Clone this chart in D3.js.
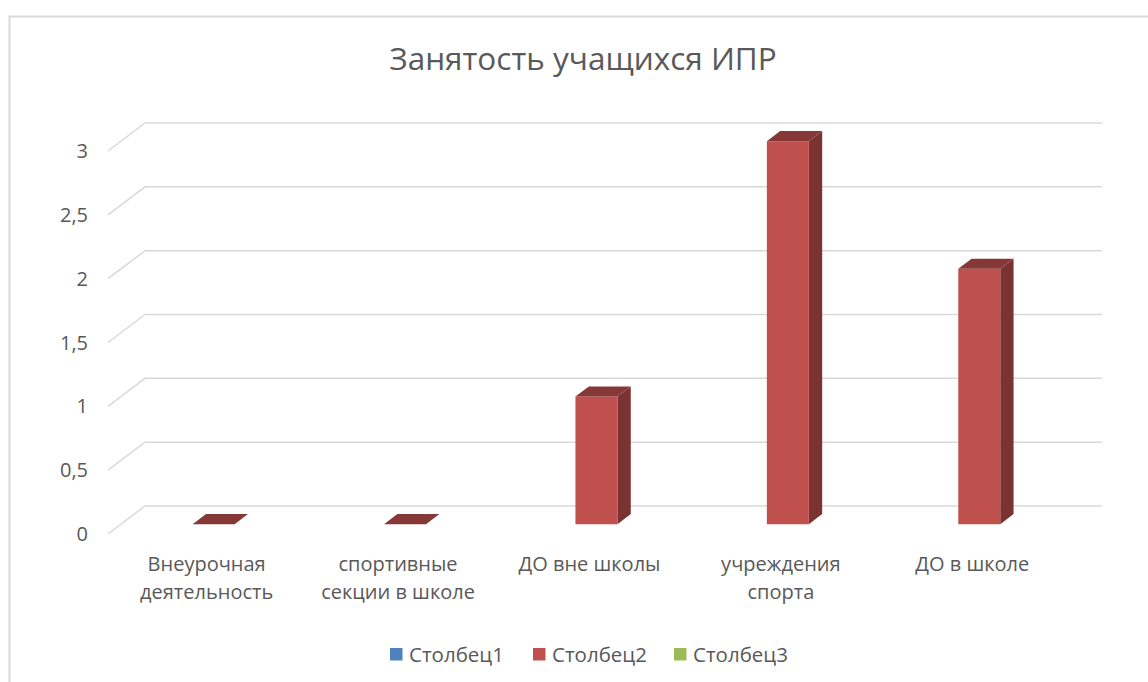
<!DOCTYPE html>
<html><head><meta charset="utf-8">
<script src="https://cdn.jsdelivr.net/npm/d3@7"></script>
<style>body{margin:0;background:#fff;} svg{display:block;}</style>
</head><body>
<svg id="chart" width="1148" height="682"></svg>
<script>
const title = "Занятость учащихся ИПР";
const categories = [["Внеурочная","деятельность"],["спортивные","секции в школе"],["ДО вне школы"],["учреждения","спорта"],["ДО в школе"]];
const seriesNames = ["Столбец1","Столбец2","Столбец3"];
const seriesColors = ["#4f81bd","#c0504d","#9bbb59"];
const series1 = [null,null,null,null,null];
const series2 = [0,0,1,3,2];
const series3 = [null,null,null,null,null];
const yTicks = [0,0.5,1,1.5,2,2.5,3];

const svg = d3.select("#chart");
const font = "Open Sans, Noto Sans, sans-serif";
const textColor = "#595959";

// chart border
svg.append("rect").attr("x",9.5).attr("y",16.5).attr("width",1200).attr("height",700)
  .attr("fill","none").attr("stroke","#d9d9d9").attr("stroke-width",2);

svg.append("text").attr("x",583).attr("y",70).attr("text-anchor","middle")
  .attr("font-family",font).attr("font-size",31.5).attr("fill",textColor).text(title);

const y = d3.scaleLinear().domain([0,3]).range([506,123]);
const x = d3.scaleBand().domain(d3.range(categories.length)).range([145,1102]);
const DX = -37, DY = 28;
const proj = (px,py,t) => [px + DX*t, py + DY*t];

// gridlines
const g = svg.append("g");
yTicks.forEach(v => {
  const yy = y(v);
  const f = proj(145,yy,1);
  g.append("path").attr("d",`M${f[0]},${f[1]}L145,${yy}L1102,${yy}`)
    .attr("fill","none").attr("stroke","#d9d9d9").attr("stroke-width",1.5);
  g.append("text").attr("x",88).attr("y",f[1]+7).attr("text-anchor","end")
    .attr("font-family",font).attr("font-size",20).attr("fill",textColor)
    .text(String(v).replace(".",","));
});

// category labels
categories.forEach((lines,i) => {
  const cx = x(i) + x.bandwidth()/2 + DX*0.92;
  const t = svg.append("text").attr("text-anchor","middle").attr("font-family",font)
    .attr("font-size",20).attr("fill",textColor);
  lines.forEach((l,j) => t.append("tspan").attr("x",cx).attr("y",571 + j*28).text(l));
});

// bars (series 2 in the middle depth)
const barW = 42, tFront = 0.65, tBack = 0.29, barShift = -3;
const allSeries = [series1,series2,series3];
const shade = (c,k) => d3.color(c).darker(k).formatHex();
allSeries.forEach((vals,si) => {
  vals.forEach((v,i) => {
    if (v === null) return;
    const cx = x(i) + x.bandwidth()/2 + barShift;
    const x0 = cx - barW/2, x1 = cx + barW/2;
    const yt = y(v), yb = y(0);
    const fL = proj(x0,yt,tFront), fR = proj(x1,yt,tFront), bL = proj(x0,yt,tBack), bR = proj(x1,yt,tBack);
    const fLb = proj(x0,yb,tFront), fRb = proj(x1,yb,tFront), bRb = proj(x1,yb,tBack);
    const col = seriesColors[si];
    svg.append("path").attr("d",`M${fR}L${bR}L${bRb}L${fRb}Z`).attr("fill",shade(col,1.25));
    svg.append("path").attr("d",`M${fL}L${fR}L${fRb}L${fLb}Z`).attr("fill",col);
    svg.append("path").attr("d",`M${fL}L${bL}L${bR}L${fR}Z`).attr("fill",shade(col,1.0));
  });
});

// legend
const legX = [390,533,674];
seriesNames.forEach((n,i) => {
  svg.append("rect").attr("x",legX[i]).attr("y",648).attr("width",12.5).attr("height",12.5).attr("fill",seriesColors[i]);
  svg.append("text").attr("x",legX[i]+19).attr("y",662).attr("font-family",font).attr("font-size",20.5)
    .attr("fill",textColor).text(n);
});
</script>
</body></html>
